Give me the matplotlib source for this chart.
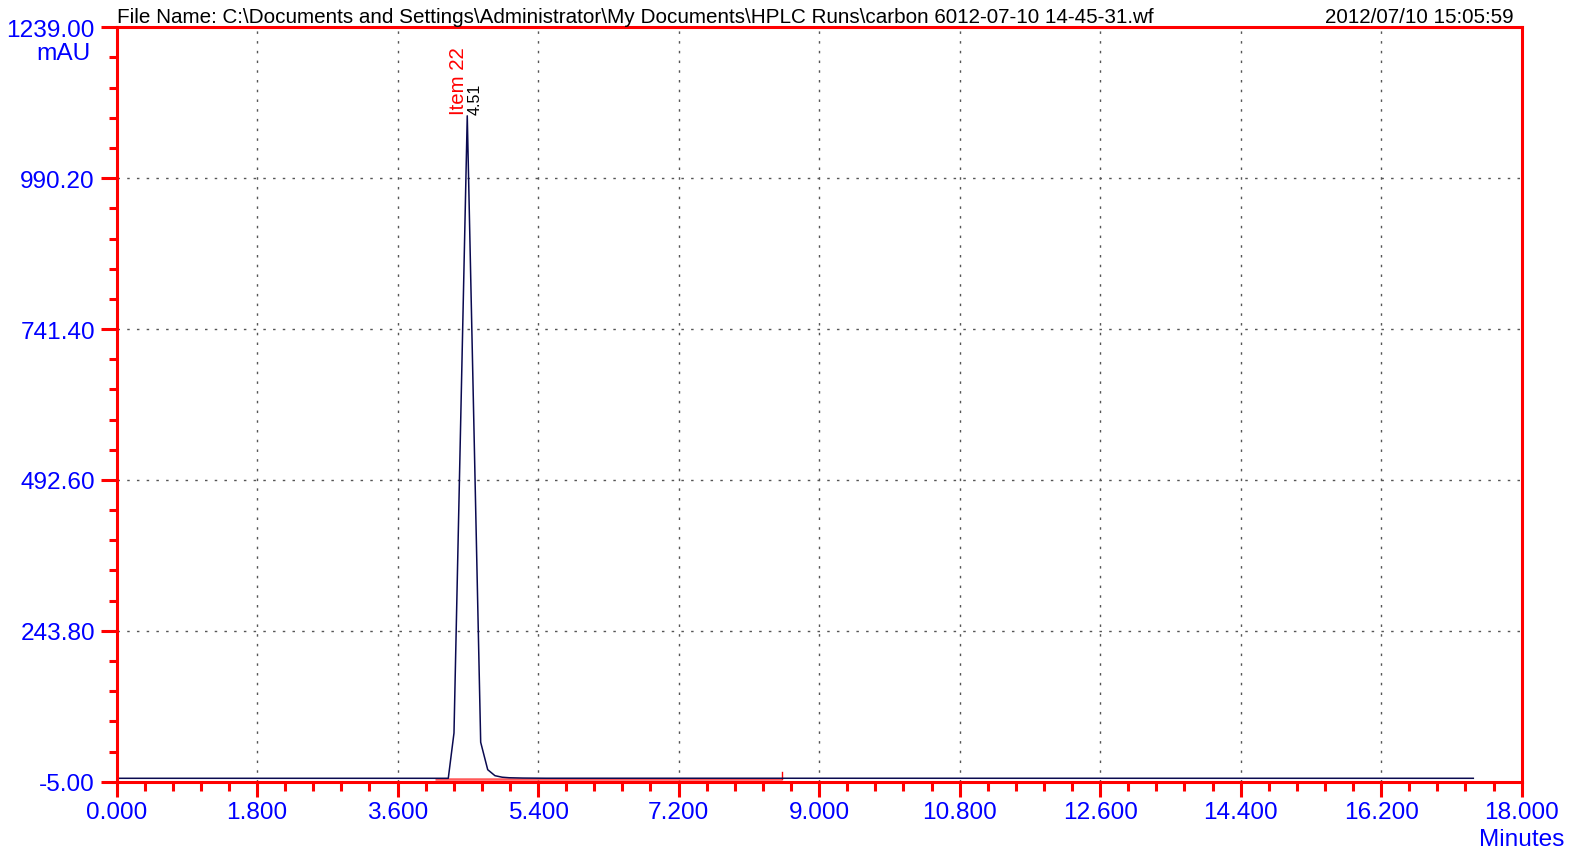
import matplotlib
matplotlib.use("Agg")
import matplotlib.pyplot as plt
from matplotlib.ticker import FixedLocator

plt.rcParams['font.family'] = ['Liberation Sans', 'DejaVu Sans']

# ---- data ----
time_min = [0.0, 4.25, 4.323, 4.493, 4.665, 4.755, 4.848, 4.94, 5.03, 5.2, 5.5, 17.38]
signal_mau = [0.6, 0.6, 75.3, 1093.0, 60.0, 14.8, 4.9, 2.4, 1.5, 1.0, 0.7, 0.6]

peak_time = 4.51
peak_label_name = "Item 22"
peak_label_time = "4.51"
peak_height = 1093.0

baseline_start, baseline_end = 4.08, 8.52
baseline_level = -1.3
baseline_tick_top = 10.5

x_ticks = [0.0, 1.8, 3.6, 5.4, 7.2, 9.0, 10.8, 12.6, 14.4, 16.2, 18.0]
x_ticklabels = ["0.000", "1.800", "3.600", "5.400", "7.200", "9.000",
                "10.800", "12.600", "14.400", "16.200", "18.000"]
y_ticks = [-5.0, 243.8, 492.6, 741.4, 990.2, 1239.0]
y_ticklabels = ["-5.00", "243.80", "492.60", "741.40", "990.20", "1239.00"]
minor_per_major = 5

title_left = r"File Name: C:\Documents and Settings\Administrator\My Documents\HPLC Runs\carbon 6012-07-10 14-45-31.wf"
title_right = "2012/07/10 15:05:59"

RED = "#ff0000"
BLUE = "#0000ff"
NAVY = "#0a0a50"

fig = plt.figure(figsize=(15.75, 8.53), dpi=100)
ax = fig.add_axes([0.07397, 0.08242, 0.96616 - 0.07397, 0.96682 - 0.08242])

ax.set_xlim(x_ticks[0], x_ticks[-1])
ax.set_ylim(y_ticks[0], y_ticks[-1])

# grid
for xv in x_ticks[1:-1]:
    ax.axvline(xv, color="#555555", lw=1.0, ls=(0, (1.8, 5.2)), zorder=1)
for yv in y_ticks[1:-1]:
    ax.axhline(yv, color="#555555", lw=1.0, ls=(0, (1.8, 5.2)), zorder=1)

# integration baseline
ax.plot([baseline_start, baseline_end], [baseline_level, baseline_level],
        color="#ff5a5a", lw=1.8, zorder=2, solid_capstyle="butt")
ax.plot([baseline_end, baseline_end], [baseline_level, baseline_tick_top],
        color=RED, lw=1.0, zorder=2)

# chromatogram
ax.plot(time_min, signal_mau, color=NAVY, lw=1.1, zorder=3)

# peak labels
ax.annotate(peak_label_name, xy=(peak_time, peak_height), xytext=(-7.5, 1),
            textcoords="offset points", rotation=90, ha="center", va="bottom",
            color=RED, fontsize=14.7)
ax.annotate(peak_label_time, xy=(peak_time, peak_height), xytext=(5, 1),
            textcoords="offset points", rotation=90, ha="center", va="bottom",
            color="black", fontsize=11.5)

# spines
for s in ax.spines.values():
    s.set_color(RED)
    s.set_linewidth(2.2)
    s.set_zorder(5)

def minors(ticks, n):
    out = []
    for a, b in zip(ticks[:-1], ticks[1:]):
        step = (b - a) / n
        out += [a + k * step for k in range(1, n)]
    return out

ax.xaxis.set_major_locator(FixedLocator(x_ticks))
ax.set_xticklabels(x_ticklabels)
ax.xaxis.set_minor_locator(FixedLocator(minors(x_ticks, minor_per_major)))
ax.yaxis.set_major_locator(FixedLocator(y_ticks))
ax.set_yticklabels(y_ticklabels)
ax.yaxis.set_minor_locator(FixedLocator(minors(y_ticks, minor_per_major)))

ax.tick_params(axis="x", which="major", direction="out", length=11, width=2.2,
               color=RED, labelcolor=BLUE, labelsize=17.6, pad=3)
ax.tick_params(axis="x", which="minor", direction="out", length=6.5, width=2.2, color=RED)
ax.tick_params(axis="y", which="major", direction="out", length=11.5, width=2.2,
               color=RED, labelcolor=BLUE, labelsize=17.6, pad=4)
ax.tick_params(axis="y", which="minor", direction="out", length=5.8, width=2.2, color=RED)

# axis unit labels
fig.text(91 / 1575, 1 - 60 / 853, "mAU", ha="right", va="baseline",
         color=BLUE, fontsize=17.6)
fig.text(1521.7 / 1575, 1 - 846 / 853, "Minutes", ha="center", va="baseline",
         color=BLUE, fontsize=17.6)

# header
fig.text(117 / 1575, 1 - 22.7 / 853, title_left, ha="left", va="baseline",
         fontsize=14.9, color="black")
fig.text(1513.3 / 1575, 1 - 22.7 / 853, title_right, ha="right", va="baseline",
         fontsize=14.9, color="black")

fig.savefig("out.png", dpi=100)
